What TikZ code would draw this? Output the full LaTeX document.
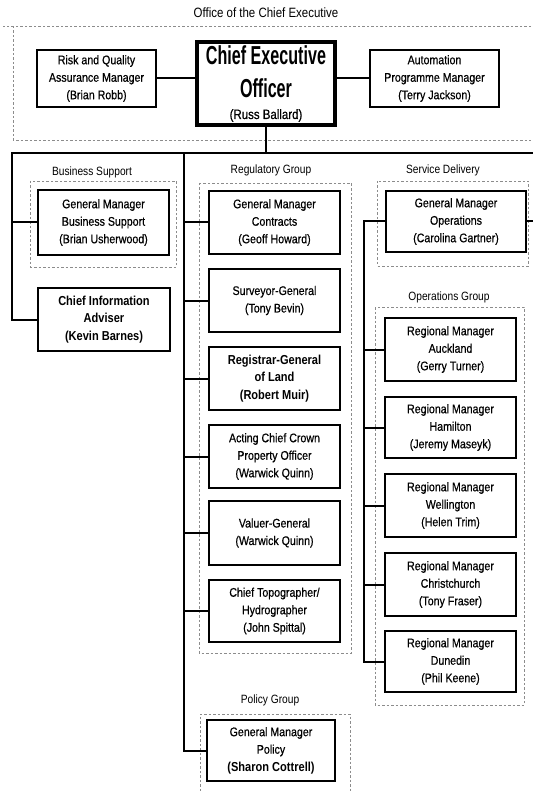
\documentclass[tikz,border=0pt]{standalone}
\usepackage{fontspec}
\setmainfont{Liberation Sans}[FakeStretch=0.85, UprightFeatures={FakeBold=0.5}]
\newfontfamily\labelfont{Liberation Sans}[FakeStretch=0.85]
\newfontfamily\ceofont{Liberation Sans}[FakeStretch=0.62]
\begin{document}
\begin{tikzpicture}[x=1pt,y=-1pt,
  orgbox/.style={draw, fill=white, line width=1.6pt, align=center, inner sep=0pt,
    font=\fontsize{12.5}{17.5}\selectfont},
  boldbox/.style={orgbox, font=\fontsize{13}{17.5}\selectfont\bfseries},
  link/.style={line width=2pt, line cap=rect},
  zone/.style={draw=black!45, line width=0.6pt, dash pattern=on 2.5pt off 2pt},
  grouplabel/.style={font=\labelfont\fontsize{12}{14}\selectfont, inner sep=0pt},
  regbox/.style={orgbox, minimum width=131.5pt, minimum height=63.5pt},
  rgnbox/.style={orgbox, minimum width=131.5pt, minimum height=63.5pt},
]
\useasboundingbox (0,0) rectangle (532,791);

% dashed group outlines
\draw[zone] (531,26) -- (3,26);
\draw[zone] (13,26) -- (13,140) -- (531,140);
\draw[zone] (30,181) rectangle (176,267);
\draw[zone] (199,183) rectangle (351,653);
\draw[zone] (377,181) rectangle (528,266);
\draw[zone] (375,307) rectangle (524,705);
\draw[zone] (200,800) -- (200,714) -- (350,714) -- (350,800);

% group labels
\node[grouplabel, font=\labelfont\fontsize{13.5}{15}\selectfont] (lofc) at (266,13) {Office of the Chief Executive};
\node[grouplabel] (lbs) at (92,172) {Business Support};
\node[grouplabel] (lrg) at (271,170) {Regulatory Group};
\node[grouplabel] (lsd) at (443,170) {Service Delivery};
\node[grouplabel] (log) at (449,297) {Operations Group};
\node[grouplabel] (lpg) at (270,700) {Policy Group};

% office of the chief executive
\node[orgbox, minimum width=119.5pt, minimum height=57.5pt] (risk) at (96.5,78.5)
  {Risk and Quality\\Assurance Manager\\(Brian Robb)};
\node[draw, fill=white, line width=4pt, minimum width=138pt, minimum height=83pt] (ceo) at (266,83.5) {};
\node[anchor=base, inner sep=0pt, font=\ceofont\bfseries\fontsize{26}{28}\selectfont] (ceot1) at (266,65) {Chief Executive};
\node[anchor=base, inner sep=0pt, font=\ceofont\bfseries\fontsize{26}{28}\selectfont] (ceot2) at (266,98) {Officer};
\node[anchor=base, inner sep=0pt, font=\fontsize{13.5}{16}\selectfont] (ceot3) at (266,119) {(Russ Ballard)};
\node[orgbox, minimum width=129.5pt, minimum height=57.5pt] (auto) at (434.5,78.5)
  {Automation\\Programme Manager\\(Terry Jackson)};

% business support
\node[orgbox, minimum width=131.5pt, minimum height=65.5pt] (gmbs) at (103.5,222.5)
  {General Manager\\Business Support\\(Brian Usherwood)};
\node[boldbox, minimum width=132.5pt, minimum height=63.5pt] (cia) at (104,319.5)
  {Chief Information\\Adviser\\(Kevin Barnes)};

% regulatory group
\node[regbox] (contracts) at (274.5,222.5) {General Manager\\Contracts\\(Geoff Howard)};
\node[regbox] (surveyor) at (274.5,300.5) {Surveyor-General\\(Tony Bevin)};
\node[regbox, boldbox] (registrar) at (274.5,378.5) {Registrar-General\\of Land\\(Robert Muir)};
\node[regbox] (crown) at (274.5,456.5) {Acting Chief Crown\\Property Officer\\(Warwick Quinn)};
\node[regbox, minimum height=64.5pt] (valuer) at (274.5,533) {Valuer-General\\(Warwick Quinn)};
\node[regbox, minimum height=62.5pt] (topo) at (274.5,611) {Chief Topographer/\\Hydrographer\\(John Spittal)};

% policy group
\node[orgbox, minimum width=128.5pt, minimum height=61.5pt] (policy) at (271,750.5)
  {General Manager\\Policy\\{\bfseries\fontsize{13}{17.5}\selectfont (Sharon Cottrell)}};

% service delivery
\node[orgbox, minimum width=140.5pt, minimum height=61.5pt] (gmops) at (456,221.5)
  {General Manager\\Operations\\(Carolina Gartner)};
\node[rgnbox] (auckland) at (450.5,349.5) {Regional Manager\\Auckland\\(Gerry Turner)};
\node[rgnbox, minimum height=61.5pt] (hamilton) at (450.5,427.5) {Regional Manager\\Hamilton\\(Jeremy Maseyk)};
\node[rgnbox] (wellington) at (450.5,505.5) {Regional Manager\\Wellington\\(Helen Trim)};
\node[rgnbox] (christchurch) at (450.5,584.5) {Regional Manager\\Christchurch\\(Tony Fraser)};
\node[rgnbox, minimum height=61.5pt] (dunedin) at (450.5,661.5) {Regional Manager\\Dunedin\\(Phil Keene)};

% connectors
\coordinate (hl) at (12,153);
\coordinate (hr) at (533,153);
\coordinate (t2) at (183.5,153);
\coordinate (t3) at (363.5,221.5);

\draw[link] (risk.east) -- (risk.east -| ceo.west);
\draw[link] (auto.west) -- (auto.west -| ceo.east);
\draw[link] (ceo.south) -- (ceo.south |- hl);
\draw[link] (hl) -- (hr);
\draw[link] (hl) |- (cia.west);
\draw[link] (gmbs.west) -- (gmbs.west -| hl);
\draw[link] (t2) |- (policy.west);
\foreach \n in {contracts,surveyor,registrar,crown,valuer,topo}
  \draw[link] (\n.west) -- (\n.west -| t2);
\draw[link] (gmops.east) -- (gmops.east -| hr);
\draw[link] (gmops.west) -- (t3) |- (dunedin.west);
\foreach \n in {auckland,hamilton,wellington,christchurch}
  \draw[link] (\n.west) -- (\n.west -| t3);
\end{tikzpicture}
\end{document}
